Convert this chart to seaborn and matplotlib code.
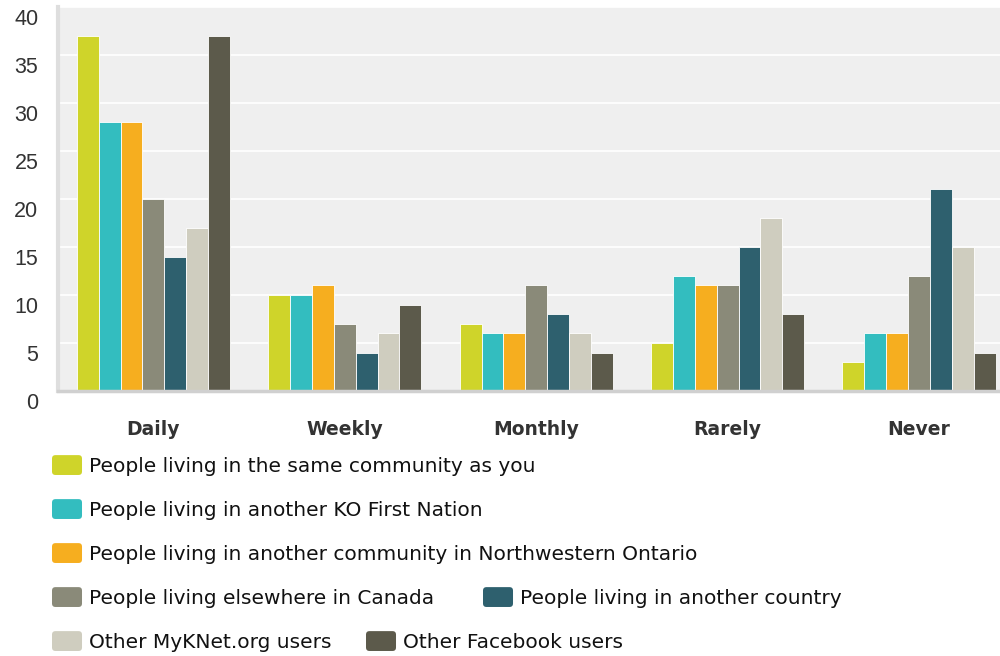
import matplotlib
matplotlib.use("Agg")
import matplotlib.pyplot as plt
import matplotlib.transforms as mtransforms
from matplotlib.patches import Patch, FancyBboxPatch
from matplotlib.legend_handler import HandlerPatch
import pandas as pd
import seaborn as sns

frequency = ["Daily", "Weekly", "Monthly", "Rarely", "Never"]
groups = [
    "People living in the same community as you",
    "People living in another KO First Nation",
    "People living in another community in Northwestern Ontario",
    "People living elsewhere in Canada",
    "People living in another country",
    "Other MyKNet.org users",
    "Other Facebook users",
]
same_community = [37, 10, 7, 5, 3]
ko_first_nation = [28, 10, 6, 12, 6]
nw_ontario = [28, 11, 6, 11, 6]
elsewhere_canada = [20, 7, 11, 11, 12]
another_country = [14, 4, 8, 15, 21]
myknet_users = [17, 6, 6, 18, 15]
facebook_users = [37, 9, 4, 8, 4]
colors = ["#CFD42A", "#33BDBF", "#F6AE1F", "#8A8A79", "#2E606E", "#CFCDBF", "#5C5A4B"]

series = [same_community, ko_first_nation, nw_ontario, elsewhere_canada,
          another_country, myknet_users, facebook_users]
rows = []
for g, vals in zip(groups, series):
    for f, v in zip(frequency, vals):
        rows.append({"freq": f, "group": g, "value": v})
df = pd.DataFrame(rows)

sns.set_style("white")
plt.rcParams["font.family"] = ["Liberation Sans", "DejaVu Sans"]

fig = plt.figure(figsize=(10, 6.56), dpi=100)
ax = fig.add_axes([0.0577, 0.404, 0.957, 0.5854])
ax.set_facecolor("#EFEFEF")

sns.barplot(data=df, x="freq", y="value", hue="group", hue_order=groups,
            order=frequency, palette=colors, saturation=1, width=0.8,
            edgecolor="white", linewidth=0.6, ax=ax, legend=False)

ax.set_ylim(0, 40)
ax.set_xlim(-0.5, 4.5)
ax.set_yticks(range(0, 41, 5))
ax.yaxis.grid(True, color="white", linewidth=1.2)
ax.set_axisbelow(True)
ax.set_xlabel("")
ax.set_ylabel("")
for side in ["top", "right"]:
    ax.spines[side].set_visible(False)
ax.spines["left"].set_color("#DEDEDE")
ax.spines["left"].set_linewidth(3)
ax.spines["bottom"].set_color("#D0D0D0")
ax.spines["bottom"].set_linewidth(2.5)
ax.tick_params(axis="y", length=0, pad=14, labelsize=15.5, labelcolor="#333333")
ax.tick_params(axis="x", length=0, pad=21, labelcolor="#333333")
for lab in ax.get_xticklabels():
    lab.set_fontfamily("DejaVu Sans")
    lab.set_fontweight("bold")
    lab.set_fontsize(13.5)
offset = mtransforms.ScaledTranslation(0, -10 / 100, fig.dpi_scale_trans)
for lab in ax.get_yticklabels():
    lab.set_transform(lab.get_transform() + offset)


def rounded_swatch(legend, orig_handle, xdescent, ydescent, width, height, fontsize):
    return FancyBboxPatch((-xdescent, -ydescent), width, height,
                          boxstyle="round,pad=0,rounding_size=2.5")


# legend items placed one by one, as in the original rows
item_pos = [(52, 465.5), (52, 509.5), (52, 553.5), (52, 597.5), (483, 597.5),
            (52, 641.5), (366, 641.5)]
for i, (xx, yy) in enumerate(item_pos):
    h = Patch(facecolor=colors[i], edgecolor="none", label=groups[i])
    fig.legend(handles=[h], loc="center left", bbox_to_anchor=(xx / 1000, 1 - yy / 656),
               frameon=False, borderpad=0, borderaxespad=0,
               prop={"family": "DejaVu Sans", "size": 14.5},
               handlelength=1.49, handleheight=1.14, handletextpad=0.35,
               labelcolor="#111111",
               handler_map={Patch: HandlerPatch(patch_func=rounded_swatch)})

fig.savefig("out.png", dpi=100)
